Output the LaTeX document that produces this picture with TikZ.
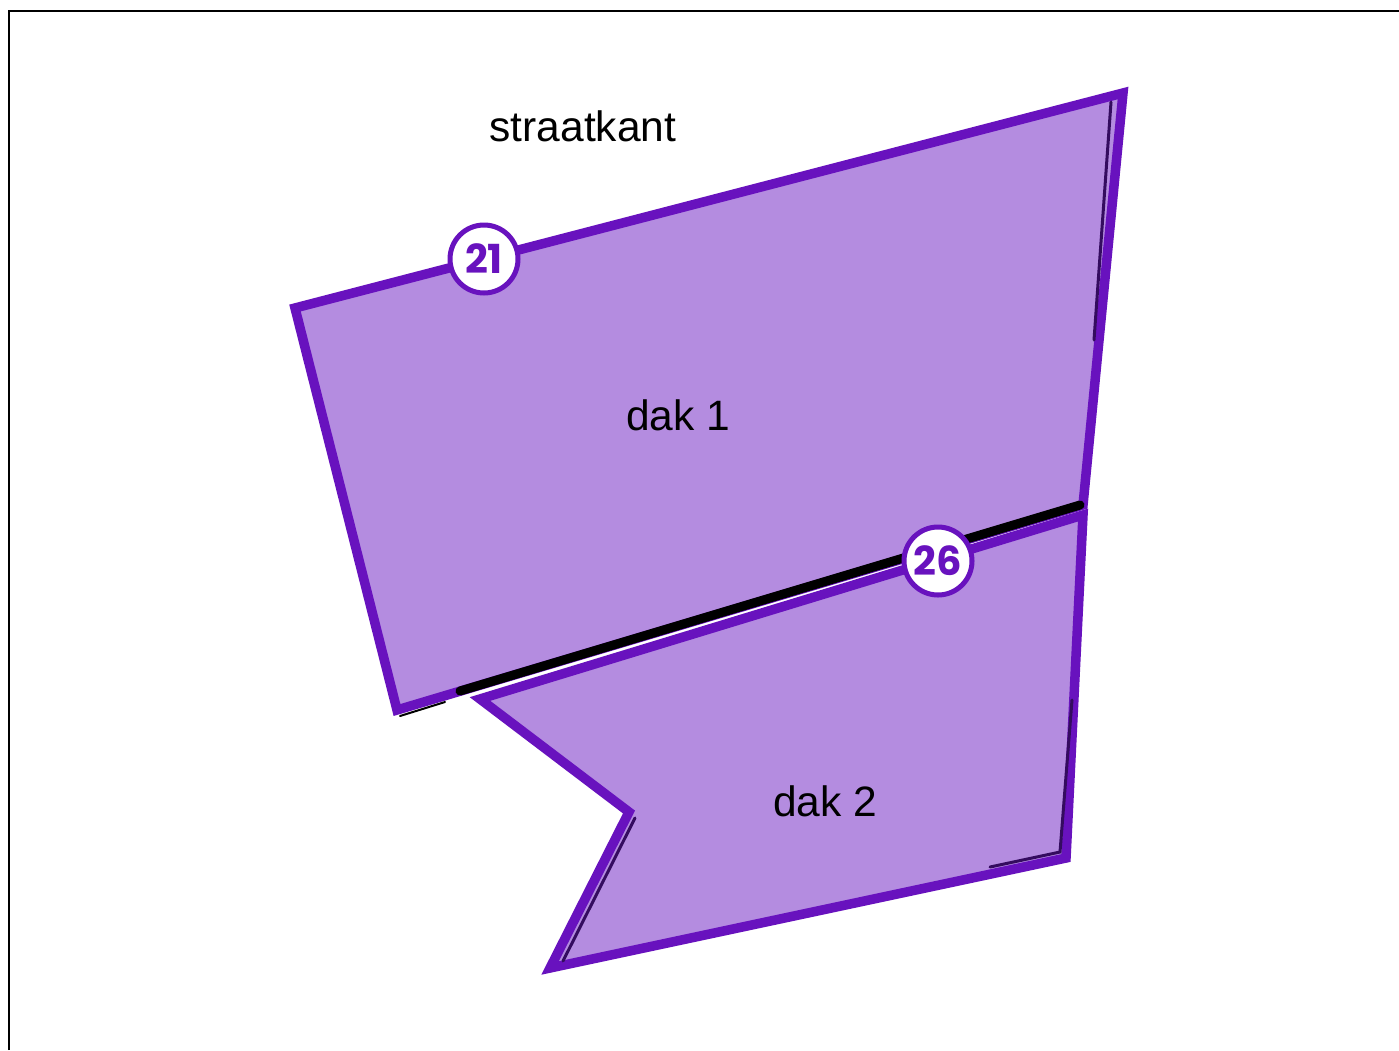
\documentclass[tikz,border=0pt]{standalone}
\usepackage{fontspec}
\setmainfont{Liberation Sans}
\newfontfamily\badgefont{Poppins}
\definecolor{roofstroke}{RGB}{104,18,190}
\definecolor{rooffill}{RGB}{180,140,224}
\definecolor{roofshade}{RGB}{52,12,95}
\tikzset{
  frame/.style={line width=2.5pt, black},
  roof/.style={draw=roofstroke, fill=rooffill, line width=9.5pt, line join=miter, miter limit=20},
  shade/.style={roofshade, line width=3pt, line cap=round},
  ridge/.style={black, line width=9pt, line cap=round},
  badge/.style={circle, draw=roofstroke, fill=white, line width=5pt, minimum size=68pt, inner sep=0pt,
    text=roofstroke, font=\badgefont\bfseries\fontsize{40}{40}\selectfont},
  lbl/.style={font=\fontsize{42.5}{42.5}\selectfont, inner sep=0pt}
}
\begin{document}
\begin{tikzpicture}[x=1pt,y=-1pt]
\useasboundingbox (0,0) rectangle (1399,1050);
\fill[white] (0,0) rectangle (1399,1050);
\draw[frame] (9,1050) -- (9,11) -- (1399,11);

% dak 1
\coordinate (a1) at (295,308);
\coordinate (a2) at (1123,93);
\coordinate (a3) at (1083,505);
\coordinate (a4) at (397,710);
% dak 2
\coordinate (b1) at (480,699);
\coordinate (b2) at (1083,515);
\coordinate (b3) at (1066,858);
\coordinate (b4) at (550,968);
\coordinate (b5) at (629,812);
% ridge ends
\coordinate (r1) at (460,691);
\coordinate (r2) at (1080,505);

\draw[roof] (a1) -- (a2) -- (a3) -- (a4) -- cycle;
\draw[roof] (b1) -- (b2) -- (b3) -- (b4) -- (b5) -- cycle;

% inner shading
\coordinate (s1) at (1111,102);
\coordinate (s2) at (1094,340);
\draw[shade] (s1) -- (s2);
\coordinate (s3) at (1072,700);
\coordinate (s4) at (1060,852);
\coordinate (s5) at (990,867);
\draw[shade] (s3) -- (s4) -- (s5);
\coordinate (s6) at (635,818);
\coordinate (s7) at (563,961);
\draw[shade] (s6) -- (s7);
\coordinate (s8) at (400,716);
\coordinate (s9) at (445,702);
\draw[shade, black, line width=2pt] (s8) -- (s9);

\draw[ridge] (r1) -- (r2);

\node[badge] (n21) at (484,259) {21};
\node[badge] (n26) at (938,561) {26};

\node[lbl] (straat) at (583,126) {straatkant};
\node[lbl] (dak1) at (678,415) {dak 1};
\node[lbl] (dak2) at (825,801) {dak 2};
\end{tikzpicture}
\end{document}
